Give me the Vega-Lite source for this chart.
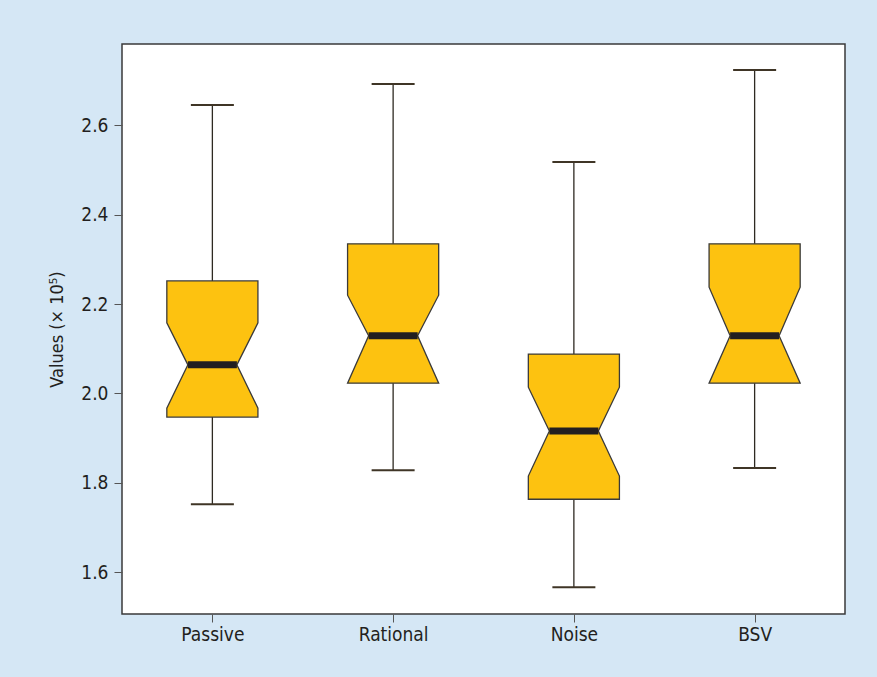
{
  "$schema": "https://vega.github.io/schema/vega-lite/v6.json",
  "width": 723,
  "height": 570,
  "autosize": {"type": "none"},
  "padding": {"left": 122, "top": 44, "right": 32, "bottom": 63},
  "background": "#d5e7f5",
  "config": {
    "view": {"fill": "white", "stroke": "#3a3a3a", "strokeWidth": 1.5},
    "axis": {
      "labelFont": "Liberation Sans Narrow, DejaVu Sans Condensed, sans-serif",
      "labelFontSize": 19,
      "labelColor": "#231f20",
      "titleFont": "Liberation Sans Narrow, DejaVu Sans Condensed, sans-serif",
      "titleFontSize": 18,
      "titleFontWeight": "normal",
      "titleColor": "#231f20",
      "tickColor": "#555555",
      "tickSize": 8,
      "tickWidth": 1,
      "domain": false,
      "grid": false
    }
  },
  "data": {
    "values": [
      {"group": "Passive", "lower": 1.752, "q1": 1.947, "nlo": 1.967, "median": 2.064, "nhi": 2.158, "q3": 2.252, "upper": 2.646},
      {"group": "Rational", "lower": 1.828, "q1": 2.023, "nlo": 2.023, "median": 2.129, "nhi": 2.220, "q3": 2.335, "upper": 2.693},
      {"group": "Noise", "lower": 1.566, "q1": 1.763, "nlo": 1.815, "median": 1.916, "nhi": 2.014, "q3": 2.088, "upper": 2.518},
      {"group": "BSV", "lower": 1.833, "q1": 2.023, "nlo": 2.023, "median": 2.129, "nhi": 2.238, "q3": 2.335, "upper": 2.724}
    ]
  },
  "transform": [
    {"calculate": "indexof(['Passive','Rational','Noise','BSV'], datum.group) + 1", "as": "pos"}
  ],
  "layer": [
    {
      "mark": {"type": "rule", "color": "#2e2a22", "strokeWidth": 1.3},
      "encoding": {
        "x": {
          "field": "pos", "type": "quantitative",
          "scale": {"domain": [0.5, 4.5], "nice": false, "zero": false},
          "axis": {
            "values": [1, 2, 3, 4],
            "labelExpr": "['Passive','Rational','Noise','BSV'][datum.value - 1]",
            "labelPadding": 3,
            "title": null
          }
        },
        "y": {
          "field": "lower", "type": "quantitative",
          "title": "Values (× 10⁵)",
          "scale": {"domain": [1.506, 2.7825], "nice": false, "zero": false},
          "axis": {
            "values": [1.6, 1.8, 2.0, 2.2, 2.4, 2.6],
            "format": ".1f",
            "labelPadding": 6,
            "titlePadding": 14
          }
        },
        "y2": {"field": "upper"}
      }
    },
    {
      "mark": {"type": "tick", "orient": "horizontal", "size": 43, "thickness": 2, "color": "#3f3526", "opacity": 1},
      "encoding": {
        "x": {"field": "pos", "type": "quantitative", "title": null},
        "y": {"field": "lower", "type": "quantitative", "title": "Values (× 10⁵)"}
      }
    },
    {
      "mark": {"type": "tick", "orient": "horizontal", "size": 43, "thickness": 2, "color": "#3f3526", "opacity": 1},
      "encoding": {
        "x": {"field": "pos", "type": "quantitative", "title": null},
        "y": {"field": "upper", "type": "quantitative", "title": "Values (× 10⁵)"}
      }
    },
    {
      "transform": [
        {"fold": ["q1", "nlo", "median", "nhi", "q3"], "as": ["k", "v"]},
        {"calculate": "datum.k == 'median' ? 0.1355 : 0.252", "as": "hw"},
        {"calculate": "datum.pos - datum.hw", "as": "xl"},
        {"calculate": "datum.pos + datum.hw", "as": "xr"}
      ],
      "mark": {"type": "area", "orient": "horizontal", "fill": "#fdc210", "stroke": "#3a3a3a", "strokeWidth": 1.3, "opacity": 1, "fillOpacity": 1},
      "encoding": {
        "x": {"field": "xl", "type": "quantitative", "title": null},
        "x2": {"field": "xr"},
        "y": {"field": "v", "type": "quantitative", "title": "Values (× 10⁵)"},
        "detail": {"field": "group", "type": "nominal"}
      }
    },
    {
      "mark": {"type": "tick", "orient": "horizontal", "size": 49, "thickness": 7, "color": "#231f20", "opacity": 1},
      "encoding": {
        "x": {"field": "pos", "type": "quantitative", "title": null},
        "y": {"field": "median", "type": "quantitative", "title": "Values (× 10⁵)"}
      }
    }
  ]
}
